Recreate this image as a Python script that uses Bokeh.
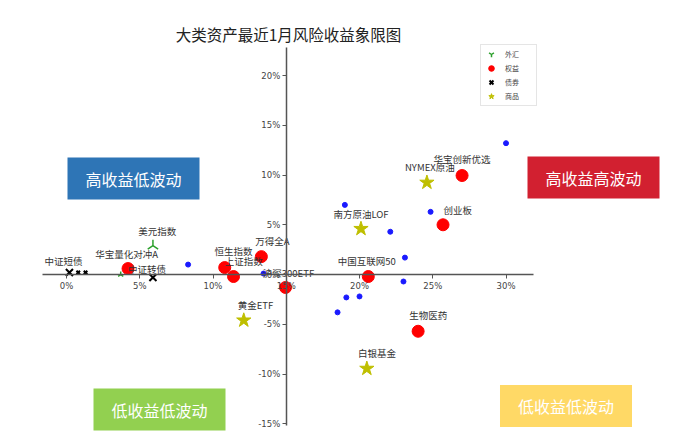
import math
from bokeh.plotting import figure
from bokeh.models import Range1d, Label, FixedTicker, PrintfTickFormatter, ColumnDataSource
from bokeh.core.properties import value
from bokeh.embed import file_html
from bokeh.resources import INLINE

title_text = "大类资产最近1月风险收益象限图"

# 外汇 (forex)
fx_names = ["美元指数", ""]
fx_vol = [5.9, 3.7]
fx_ret = [2.9, 0.0]
fx_size = [12, 6]
fx_lx = [6.2, 3.7]
fx_ly = [4.4, 0.0]

# 权益 (equity)
eq_names = ["华宝量化对冲A", "恒生指数", "上证指数", "万得全A", "沪深300ETF",
            "中国互联网50", "创业板", "华宝创新优选", "生物医药"]
eq_vol = [4.2, 10.8, 11.4, 13.3, 14.95, 20.6, 25.7, 27.0, 24.0]
eq_ret = [0.6, 0.7, -0.2, 1.8, -1.3, -0.2, 5.0, 9.95, -5.7]
eq_lx = [4.1, 11.4, 12.1, 14.06, 15.15, 20.5, 26.7, 27.0, 24.7]
eq_ly = [2.1, 2.4, 1.4, 3.4, 0.2, 1.4, 6.5, 11.6, -4.1]

# 债券 (bonds)
bd_names = ["中证短债", "", "", "中证转债"]
bd_vol = [0.2, 0.8, 1.3, 5.9]
bd_ret = [0.2, 0.2, 0.2, -0.3]
bd_size = [10, 5, 5, 10]
bd_lx = [-0.2, 0.8, 1.3, 5.5]
bd_ly = [1.4, 0.2, 0.2, 0.6]

# 商品 (commodities)
cm_names = ["NYMEX原油", "南方原油LOF", "黄金ETF", "白银基金"]
cm_vol = [24.6, 20.1, 12.1, 20.5]
cm_ret = [9.25, 4.6, -4.6, -9.45]
cm_lx = [24.8, 20.1, 12.9, 21.2]
cm_ly = [10.85, 6.1, -3.1, -7.9]

# other funds (blue dots, not in legend)
ot_vol = [8.3, 13.45, 19.0, 22.1, 24.85, 30.0, 23.1, 23.0, 19.1, 20.0, 18.5]
ot_ret = [1.0, 0.1, 7.0, 4.3, 6.3, 13.2, 1.7, -0.7, -2.3, -2.2, -3.8]

x_ticks = [0, 5, 10, 15, 20, 25, 30]
y_ticks = [-15, -10, -5, 0, 5, 10, 15, 20]
x_bounds = (-1.64, 31.88)
y_bounds = (-15.18, 22.81)

quadrants = ["高收益低波动", "高收益高波动", "低收益低波动", "低收益低波动"]
quad_colors = ["#2E75B6", "#D22030", "#92D050", "#FFD966"]

CJK = "Noto Sans CJK SC"

W, H = 691, 442
p = figure(width=W, height=H,
           x_range=Range1d(-4.505, 42.66), y_range=Range1d(-16.88, 27.54),
           output_backend="svg", toolbar_location=None,
           min_border_left=0, min_border_right=0,
           min_border_top=0, min_border_bottom=0)
p.outline_line_color = None
p.grid.visible = False
p.background_fill_color = "white"

for ax, loc, ticks, bnd in ((p.xaxis, 0, x_ticks, x_bounds), (p.yaxis, 15, y_ticks, y_bounds)):
    ax.fixed_location = loc
    ax.bounds = bnd
    ax.ticker = FixedTicker(ticks=ticks)
    ax.formatter = PrintfTickFormatter(format="%d%%")
    ax.axis_line_color = "#555555"
    ax.axis_line_width = 1.5
    ax.major_tick_line_color = "#555555"
    ax.major_tick_out = 4
    ax.major_tick_in = 0
    ax.minor_tick_line_color = None
    ax.major_label_text_font = "DejaVu Sans"
    ax.major_label_text_font_size = "8.5px"
    ax.major_label_text_color = "#444444"
    ax.major_label_standoff = 2

# points
p.scatter(ot_vol, ot_ret, size=5, color="#1a1aff")
p.scatter(fx_vol, fx_ret, marker="y", angle=math.pi, size=fx_size,
          line_color="#2ca02c", line_width=1.5, legend_label="外汇")
p.scatter(eq_vol, eq_ret, marker="circle", size=12, color="#ff0000", legend_label="权益")
p.scatter(bd_vol, bd_ret, marker="x", size=bd_size, line_color="black",
          line_width=2, legend_label="债券")
p.scatter(cm_vol, cm_ret, marker="star", size=15, color="#bfbf00", legend_label="商品")

# point labels
for names, lx, ly in ((fx_names, fx_lx, fx_ly), (eq_names, eq_lx, eq_ly),
                      (bd_names, bd_lx, bd_ly), (cm_names, cm_lx, cm_ly)):
    src = ColumnDataSource(dict(x=lx, y=ly, t=names))
    p.text(x="x", y="y", text="t", source=src, text_font=value(CJK),
           text_font_size="9.5px", text_color="#333333",
           text_align="center", text_baseline="middle")

# legend
lg = p.legend[0]
lg.location = (480, 336)
lg.label_text_font = CJK
lg.label_text_font_size = "7px"
lg.label_height = 14
lg.glyph_height = 14
lg.glyph_width = 16
lg.label_width = 29
lg.label_standoff = 6
lg.spacing = 0
lg.padding = 2
lg.margin = 0
lg.border_line_color = "#cccccc"
lg.border_line_width = 1
lg.background_fill_alpha = 1

# title
p.add_layout(Label(x=288, y=H - 33, x_units="screen", y_units="screen",
                   text=title_text, text_font=CJK, text_font_size="15.5px",
                   text_color="#222222", text_align="center", text_baseline="middle"))

# quadrant boxes (screen positions of box centres)
quad_x = [133, 593, 159, 565.5]
quad_y = [H - 178, H - 177, H - 409, H - 405.5]
for t, c, qx, qy in zip(quadrants, quad_colors, quad_x, quad_y):
    p.add_layout(Label(x=qx, y=qy, x_units="screen", y_units="screen",
                       text=t, text_font=CJK, text_font_size="16px",
                       text_color="white", text_align="center", text_baseline="middle",
                       background_fill_color=c, background_fill_alpha=1.0,
                       padding=dict(left=18, right=18, top=9, bottom=9)))

open("out.html", "w").write(file_html(p, INLINE))
